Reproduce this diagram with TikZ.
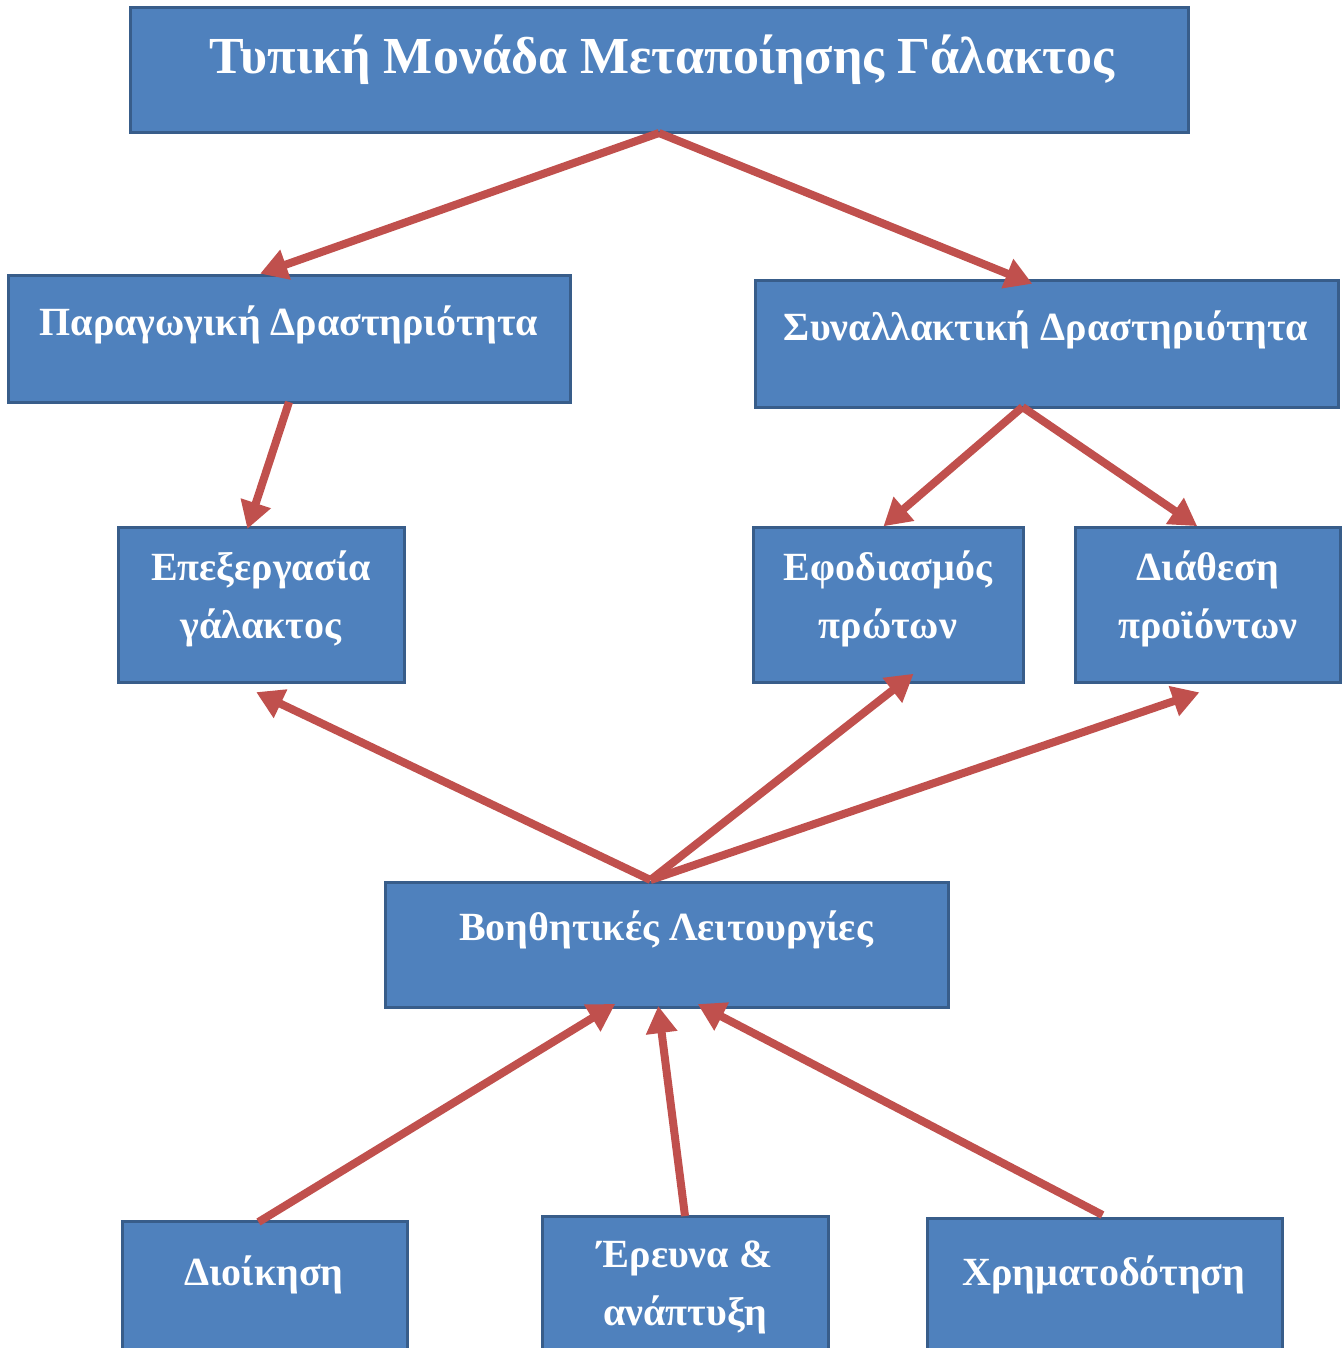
\documentclass[tikz,border=0pt]{standalone}
\usepackage{fontspec}
\setmainfont{Liberation Serif}
\usetikzlibrary{arrows.meta,calc}
\definecolor{boxfill}{HTML}{4F81BD}
\definecolor{boxline}{HTML}{385D8A}
\definecolor{arrowred}{HTML}{C0504D}
\tikzset{
  box/.style={draw=boxline, fill=boxfill, line width=3pt, rectangle, inner sep=0pt, outer sep=0pt},
  txt/.style={text=white, font=\bfseries\fontsize{40}{58}\selectfont, align=center, inner sep=0pt},
  bigtxt/.style={text=white, font=\bfseries\fontsize{52}{60}\selectfont, align=center, inner sep=0pt},
  conn/.style={draw=arrowred, line width=8pt, -{Triangle[length=27pt,width=30pt]}, shorten >=-2pt},
}
\begin{document}
\begin{tikzpicture}[x=1pt,y=-1pt]
\useasboundingbox (0,0) rectangle (1341,1348);
% boxes
\node[box, minimum width=1058pt, minimum height=125pt] (top) at (659,70.5) {};
\node[box, minimum width=562pt, minimum height=127pt] (par) at (289,338.5) {};
\node[box, minimum width=583pt, minimum height=127pt] (syn) at (1046.5,343.5) {};
\node[box, minimum width=286pt, minimum height=155pt] (epe) at (261,604.5) {};
\node[box, minimum width=270pt, minimum height=155pt] (efo) at (888,604.5) {};
\node[box, minimum width=265pt, minimum height=155pt] (dia) at (1207.5,604.5) {};
\node[box, minimum width=563pt, minimum height=125pt] (boi) at (666.5,944.5) {};
\node[box, minimum width=285pt, minimum height=150pt] (dio) at (264.5,1296) {};
\node[box, minimum width=286pt, minimum height=155pt] (ere) at (685,1293.5) {};
\node[box, minimum width=355pt, minimum height=152pt] (xri) at (1104.5,1294) {};
% texts
\node[bigtxt] (topT) at (662,60) {Τυπική Μονάδα Μεταποίησης Γάλακτος};
\node[txt] (parT) at (289,325) {Παραγωγική Δραστηριότητα};
\node[txt] (synT) at (1046,330) {Συναλλακτική Δραστηριότητα};
\node[txt] (epeT) at (261,599) {Επεξεργασία\\γάλακτος};
\node[txt] (efoT) at (888,599) {Εφοδιασμός\\πρώτων};
\node[txt] (diaT) at (1208,599) {Διάθεση\\προϊόντων};
\node[txt] (boiT) at (666,930) {Βοηθητικές Λειτουργίες};
\node[txt] (dioT) at (264,1275) {Διοίκηση};
\node[txt] (ereT) at (685,1287) {Έρευνα \&\\ανάπτυξη};
\node[txt] (xriT) at (1104,1275) {Χρηματοδότηση};
% connectors
\draw[conn] (top.south) -- ($(par.north)+(-27,-2)$);
\draw[conn] (top.south) -- ($(syn.north)+(-16,3)$);
\draw[conn] (par.south) -- ($(epe.north)+(-13,0)$);
\draw[conn] ($(syn.south)+(-24,0)$) -- ($(efo.north)+(-3,-2)$);
\draw[conn] ($(syn.south)+(-24,0)$) -- ($(dia.north)+(-12,-2)$);
\draw[conn] ($(boi.north)+(-16,-2)$) -- ($(epe.south)+(-3,11)$);
\draw[conn] ($(boi.north)+(-16,-2)$) -- ($(efo.south)+(24,-7)$);
\draw[conn] ($(boi.north)+(-16,-2)$) -- ($(dia.south)+(-10,11)$);
\draw[conn] ($(dio.north)+(-6,1)$) -- ($(boi.south)+(-53,-2)$);
\draw[conn] (ere.north) -- ($(boi.south)+(-8,1)$);
\draw[conn] ($(xri.north)+(-2,-3)$) -- ($(boi.south)+(33,-2)$);
\end{tikzpicture}
\end{document}
